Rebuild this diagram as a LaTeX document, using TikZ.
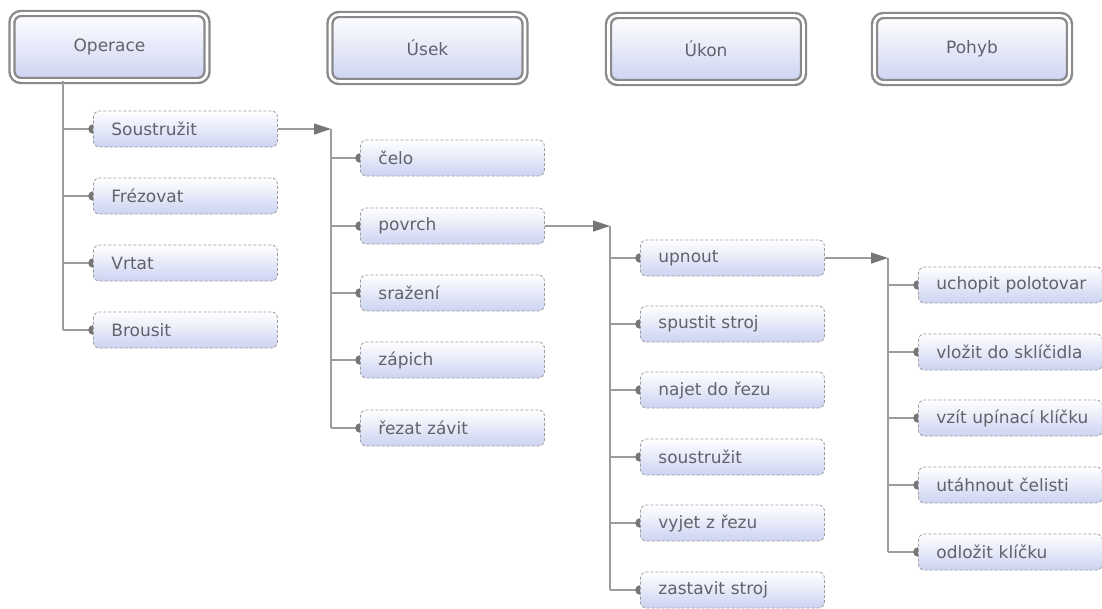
\documentclass[tikz,border=0pt]{standalone}
\usepackage{fontspec}
\setmainfont{DejaVu Sans}
\usetikzlibrary{arrows.meta}
\definecolor{lav}{HTML}{CDD3F2}
\definecolor{lnc}{HTML}{9C9C9C}
\definecolor{hdl}{HTML}{8A8A8A}
\definecolor{txt}{HTML}{62626C}
\definecolor{tipc}{HTML}{767676}
\tikzset{
  hdr/.style={draw=hdl, double=white, line width=2.4pt, double distance=2.6pt, rounded corners=9pt,
    top color=white, bottom color=lav, minimum width=195pt, minimum height=67pt,
    font=\fontsize{17}{20}\selectfont, text=txt},
  item/.style={draw=lnc, densely dashed, line width=0.8pt, rounded corners=6pt,
    top color=white, bottom color=lav, minimum height=36pt,
    anchor=west, text width=148pt, align=left, inner xsep=18pt,
    font=\fontsize{17}{20}\selectfont, text=txt},
  conn/.style={draw=lnc, line width=1.2pt},
  dotc/.style={conn, -{Circle[length=9.5pt,fill=tipc,color=tipc]}, shorten >=-4.75pt},
  arr/.style={conn, -{Triangle[length=17pt,width=11pt,fill=tipc,color=tipc]}}
}
\begin{document}
\begin{tikzpicture}[x=1pt,y=-1pt]
\useasboundingbox[fill=white] (0,0) rectangle (1102,608);
% headers
\node[hdr] (op) at (109.5,47) {Operace};
\node[hdr] (us) at (427.5,48) {Úsek};
\node[hdr] (uk) at (706,49) {Úkon};
\node[hdr] (po) at (972,49) {Pohyb};
% trunk tops
\coordinate (t1) at (63,81);
\coordinate (t2) at (331,129);
\coordinate (t3) at (610,226);
\coordinate (t4) at (888,258);
% item anchor points (west side)
\path (93,129) coordinate (a1) (93,196) coordinate (a2) (93,263) coordinate (a3) (93,330) coordinate (a4);
\path (360,158) coordinate (b1) (360,226) coordinate (b2) (360,293) coordinate (b3) (360,360) coordinate (b4) (360,428) coordinate (b5);
\path (640,258) coordinate (c1) (640,324) coordinate (c2) (640,390) coordinate (c3) (640,457) coordinate (c4) (640,523) coordinate (c5) (640,590) coordinate (c6);
\path (918,285) coordinate (d1) (918,352) coordinate (d2) (918,418) coordinate (d3) (918,485) coordinate (d4) (918,552) coordinate (d5);
% trunks
\draw[conn] (t1) -- (t1 |- a4);
\draw[conn] (t2) -- (t2 |- b5);
\draw[conn] (t3) -- (t3 |- c6);
\draw[conn] (t4) -- (t4 |- d5);
% branches
\foreach \p in {a1,a2,a3,a4} \draw[dotc] (t1 |- \p) -- (\p);
\foreach \p in {b1,b2,b3,b4,b5} \draw[dotc] (t2 |- \p) -- (\p);
\foreach \p in {c1,c2,c3,c4,c5,c6} \draw[dotc] (t3 |- \p) -- (\p);
\foreach \p in {d1,d2,d3,d4,d5} \draw[dotc] (t4 |- \p) -- (\p);
% nodes
\node[item] (n1) at (a1) {\mbox{Soustružit}};
\node[item] (n2) at (a2) {\mbox{Frézovat}};
\node[item] (n3) at (a3) {\mbox{Vrtat}};
\node[item] (n4) at (a4) {\mbox{Brousit}};
\node[item] (m1) at (b1) {\mbox{čelo}};
\node[item] (m2) at (b2) {\mbox{povrch}};
\node[item] (m3) at (b3) {\mbox{sražení}};
\node[item] (m4) at (b4) {\mbox{zápich}};
\node[item] (m5) at (b5) {\mbox{řezat závit}};
\node[item] (k1) at (c1) {\mbox{upnout}};
\node[item] (k2) at (c2) {\mbox{spustit stroj}};
\node[item] (k3) at (c3) {\mbox{najet do řezu}};
\node[item] (k4) at (c4) {\mbox{soustružit}};
\node[item] (k5) at (c5) {\mbox{vyjet z řezu}};
\node[item] (k6) at (c6) {\mbox{zastavit stroj}};
\node[item] (p1) at (d1) {\mbox{uchopit polotovar}};
\node[item] (p2) at (d2) {\mbox{vložit do sklíčidla}};
\node[item] (p3) at (d3) {\mbox{vzít upínací klíčku}};
\node[item] (p4) at (d4) {\mbox{utáhnout čelisti}};
\node[item] (p5) at (d5) {\mbox{odložit klíčku}};
% arrows between levels
\draw[arr] (n1.east) -- (t2);
\draw[arr] (m2.east) -- (t3);
\draw[arr] (k1.east) -- (t4);
\end{tikzpicture}
\end{document}
